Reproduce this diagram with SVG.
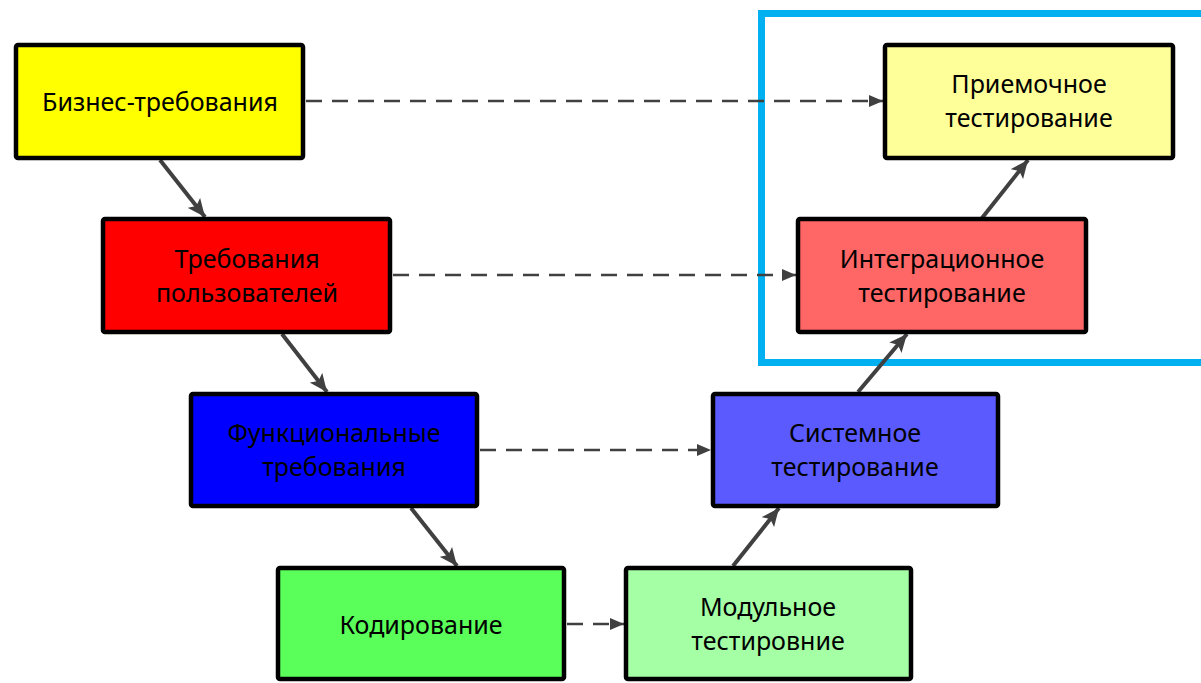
<svg xmlns="http://www.w3.org/2000/svg" width="1201" height="683" viewBox="0 0 1201 683">
<style>
.box{stroke:#000;stroke-width:4.5}
.lbl{font-family:"Noto Sans","Open Sans","Liberation Sans",sans-serif;font-size:25px;fill:#000;text-anchor:middle}
.solid{stroke:#404040;stroke-width:4;fill:none}
.dash{stroke:#404040;stroke-width:2.5;fill:none;stroke-dasharray:16 10}
</style>
<defs>
<marker id="ah" markerUnits="userSpaceOnUse" viewBox="0 0 18 16" refX="18" refY="8" markerWidth="18" markerHeight="16" orient="auto">
<path d="M0,0 L18,8 L0,16 L4,8 Z" fill="#404040"/>
</marker>
<marker id="ahs" markerUnits="userSpaceOnUse" viewBox="0 0 14 12" refX="14" refY="6" markerWidth="14" markerHeight="12" orient="auto">
<path d="M0,0 L14,6 L0,12 Z" fill="#404040"/>
</marker>
</defs>
<rect x="0" y="0" width="1201" height="683" fill="#fff"/>
<rect id="frame" x="761.5" y="13.5" width="460" height="349" fill="none" stroke="#00B0F0" stroke-width="7"/>
<g id="connectors">
<line class="solid" x1="160" y1="160" x2="205" y2="217" marker-end="url(#ah)"/>
<line class="solid" x1="282" y1="334" x2="327" y2="392" marker-end="url(#ah)"/>
<line class="solid" x1="411" y1="508" x2="457" y2="566" marker-end="url(#ah)"/>
<line class="solid" x1="733" y1="566" x2="779" y2="508" marker-end="url(#ah)"/>
<line class="solid" x1="858" y1="392" x2="907" y2="334" marker-end="url(#ah)"/>
<line class="solid" x1="982" y1="218" x2="1028" y2="160" marker-end="url(#ah)"/>
<line class="dash" x1="306" y1="101" x2="883" y2="101" marker-end="url(#ahs)"/>
<line class="dash" x1="393" y1="275" x2="796" y2="275" marker-end="url(#ahs)"/>
<line class="dash" x1="480" y1="450" x2="711" y2="450" marker-end="url(#ahs)"/>
<line class="dash" x1="567" y1="624" x2="624" y2="624" marker-end="url(#ahs)"/>
</g>
<g id="n1"><rect class="box" x="16" y="45" width="287" height="113" rx="2" fill="#FFFF00"/><text class="lbl" x="160" y="111">Бизнес-требования</text></g>
<g id="n2"><rect class="box" x="103" y="219" width="287" height="113" rx="2" fill="#FF0000"/><text class="lbl" x="247" y="268">Требования</text><text class="lbl" x="247" y="302">пользователей</text></g>
<g id="n3"><rect class="box" x="191" y="394" width="286" height="112" rx="2" fill="#0000FF"/><text class="lbl" x="334" y="442">Функциональные</text><text class="lbl" x="334" y="476">требования</text></g>
<g id="n4"><rect class="box" x="278" y="568" width="286" height="111" rx="2" fill="#5AFF5A"/><text class="lbl" x="421" y="634">Кодирование</text></g>
<g id="n5"><rect class="box" x="626" y="568" width="285" height="111" rx="2" fill="#A5FFA5"/><text class="lbl" x="768" y="616">Модульное</text><text class="lbl" x="768" y="650">тестировние</text></g>
<g id="n6"><rect class="box" x="713" y="394" width="285" height="112" rx="2" fill="#5A5AFF"/><text class="lbl" x="855" y="442">Системное</text><text class="lbl" x="855" y="476">тестирование</text></g>
<g id="n7"><rect class="box" x="798" y="219" width="288" height="113" rx="2" fill="#FF6666"/><text class="lbl" x="942" y="268">Интеграционное</text><text class="lbl" x="942" y="302">тестирование</text></g>
<g id="n8"><rect class="box" x="885" y="45" width="288" height="113" rx="2" fill="#FFFF99"/><text class="lbl" x="1029" y="93">Приемочное</text><text class="lbl" x="1029" y="127">тестирование</text></g>
</svg>
